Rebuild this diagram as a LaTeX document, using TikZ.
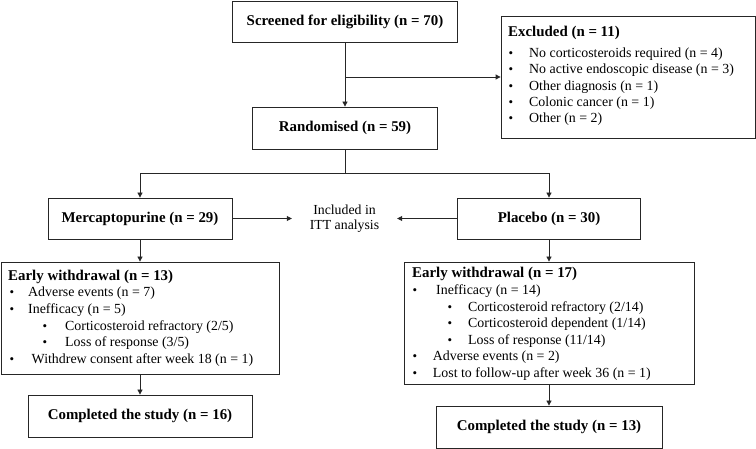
\documentclass[tikz,border=0pt]{standalone}
\usepackage{fontspec}
\setmainfont{Liberation Serif}
\usetikzlibrary{arrows.meta}
\begin{document}
\begin{tikzpicture}[x=1pt,y=-1pt,
  box/.style={draw=black!85,line width=0.8pt,inner sep=0pt,font=\fontsize{14.9}{17}\selectfont\bfseries},
  arr/.style={draw=black!85,line width=0.8pt,-{Triangle[length=5pt,width=5pt]}},
  ln/.style={draw=black!85,line width=0.8pt},
  itm/.style={anchor=base west,inner sep=0pt,font=\fontsize{13.9}{16}\selectfont},
  hd/.style={anchor=base west,inner sep=0pt,font=\fontsize{14.9}{17}\selectfont\bfseries},
  bul/.style={anchor=base,inner sep=0pt,font=\fontsize{13}{15}\selectfont}]
\useasboundingbox (0,0) rectangle (756,449);
% boxes
\node[box,minimum width=225,minimum height=41] (scr) at (345,21.5) {Screened for eligibility (n = 70)};
\node[box,minimum width=254,minimum height=122] (exc) at (628,77) {};
\node[box,minimum width=185,minimum height=42] (rand) at (345,128) {Randomised (n = 59)};
\node[box,minimum width=184,minimum height=41] (merc) at (140,218.5) {Mercaptopurine (n = 29)};
\node[box,minimum width=183,minimum height=41] (plac) at (549,218.5) {Placebo (n = 30)};
\node[inner sep=0pt,minimum width=105,align=center,font=\fontsize{13.8}{15}\selectfont] (itt) at (344.5,219) {Included in\\ITT analysis};
\node[box,minimum width=278,minimum height=112] (ew1) at (140,318) {};
\node[box,minimum width=290,minimum height=122] (ew2) at (549,323) {};
\node[box,minimum width=224,minimum height=42] (cp1) at (140,416) {Completed the study (n = 16)};
\node[box,minimum width=226,minimum height=42] (cp2) at (549,427) {Completed the study (n = 13)};
% excluded text
\node[hd] (exh) at (508,37) {Excluded (n = 11)};
\node[bul] (exb1) at (511,58) {\textbullet};
\node[itm] (ext1) at (529,58) {No corticosteroids required (n = 4)};
\node[bul] (exb2) at (511,74) {\textbullet};
\node[itm] (ext2) at (529,74) {No active endoscopic disease (n = 3)};
\node[bul] (exb3) at (511,90.3) {\textbullet};
\node[itm] (ext3) at (529,90.3) {Other diagnosis (n = 1)};
\node[bul] (exb4) at (511,106.6) {\textbullet};
\node[itm] (ext4) at (529,106.6) {Colonic cancer (n = 1)};
\node[bul] (exb5) at (511,123) {\textbullet};
\node[itm] (ext5) at (529,123) {Other (n = 2)};
% early withdrawal left
\node[hd] (l0) at (8,280.7) {Early withdrawal (n = 13)};
\node[bul] (lb1) at (12,297) {\textbullet};
\node[itm] (lt1) at (28,297) {Adverse events (n = 7)};
\node[bul] (lb2) at (12,314) {\textbullet};
\node[itm] (lt2) at (28,314) {Inefficacy (n = 5)};
\node[bul] (lb3) at (45,330.5) {\textbullet};
\node[itm] (lt3) at (65,330.5) {Corticosteroid refractory (2/5)};
\node[bul] (lb4) at (45,347) {\textbullet};
\node[itm] (lt4) at (65,347) {Loss of response (3/5)};
\node[bul] (lb5) at (12,364) {\textbullet};
\node[itm] (lt5) at (31.5,364) {Withdrew consent after week 18 (n = 1)};
% early withdrawal right
\node[hd] (r0) at (412,278) {Early withdrawal (n = 17)};
\node[bul] (rb1) at (415,295) {\textbullet};
\node[itm] (rt1) at (436,295) {Inefficacy (n = 14)};
\node[bul] (rb2) at (450,311.5) {\textbullet};
\node[itm] (rt2) at (468,311.5) {Corticosteroid refractory (2/14)};
\node[bul] (rb3) at (450,328) {\textbullet};
\node[itm] (rt3) at (468,328) {Corticosteroid dependent (1/14)};
\node[bul] (rb4) at (450,344.5) {\textbullet};
\node[itm] (rt4) at (468,344.5) {Loss of response (11/14)};
\node[bul] (rb5) at (415,361) {\textbullet};
\node[itm] (rt5) at (432.7,361) {Adverse events (n = 2)};
\node[bul] (rb6) at (415,378) {\textbullet};
\node[itm] (rt6) at (432.7,378) {Lost to follow-up after week 36 (n = 1)};
% connectors
\draw[arr] (scr.south) -- (rand.north);
\draw[arr] (scr.south |- exc.west) -- (exc.west);
\draw[ln] (rand.south) -- ++(0,24) coordinate (split);
\draw[arr] (split) -| (merc.north);
\draw[arr] (split) -| (plac.north);
\draw[arr] (merc.east) -- (itt.west |- merc.east);
\draw[arr] (plac.west) -- (itt.east |- plac.west);
\draw[arr] (merc.south) -- (merc.south |- ew1.north);
\draw[arr] (plac.south) -- (plac.south |- ew2.north);
\draw[arr] (ew1.south -| cp1.north) -- (cp1.north);
\draw[arr] (ew2.south -| cp2.north) -- (cp2.north);
\end{tikzpicture}
\end{document}
